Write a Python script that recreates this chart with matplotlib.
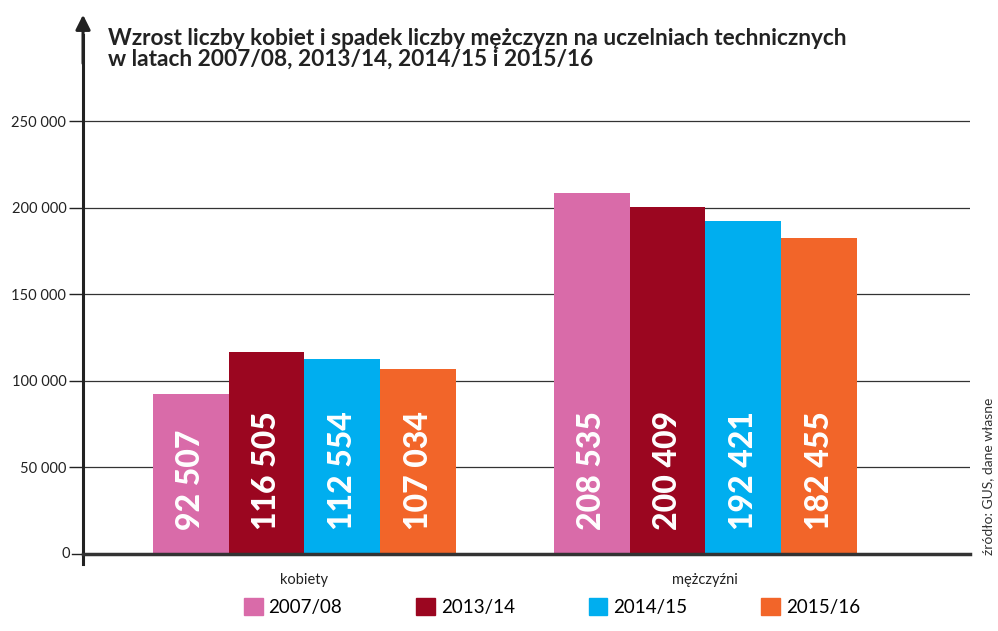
import numpy as np
import matplotlib.pyplot as plt
from matplotlib.patches import Patch

# dane
grupy = ["kobiety", "mężczyźni"]
lata = ["2007/08", "2013/14", "2014/15", "2015/16"]
kobiety = [92507, 116505, 112554, 107034]
mezczyzni = [208535, 200409, 192421, 182455]
kolory = ["#D96BA9", "#9B0620", "#00AEEF", "#F26529"]
yticks = [0, 50000, 100000, 150000, 200000, 250000]

def fmt(v):
    return f"{v:,}".replace(",", " ")

plt.rcParams['font.family'] = ['Lato', 'DejaVu Sans']

fig = plt.figure(figsize=(9.98, 6.31), dpi=100)
ax = fig.add_axes([0.0832, 0.122, 0.8888, 0.859])

x = np.arange(len(grupy))
w = 0.189
wartosci = np.array([kobiety, mezczyzni])
for i, rok in enumerate(lata):
    pos = x + (i - 1.5) * w
    ax.bar(pos, wartosci[:, i], width=w, color=kolory[i], zorder=2, label=rok)
    for xp, v in zip(pos, wartosci[:, i]):
        ax.text(xp, 14000, fmt(v), rotation=90, rotation_mode='anchor',
                ha='left', va='center', color='white', fontsize=23,
                fontweight='black', zorder=3)

ax.set_xlim(-0.552, 1.66)
ax.set_ylim(0, 313000)
ax.set_yticks(yticks[1:])
ax.set_yticklabels([fmt(t) for t in yticks[1:]], fontsize=10.5, color='#222222')
ax.tick_params(axis='y', length=10, width=1, color='#222222', pad=2)
ax.set_xticks(x)
ax.set_xticklabels(grupy, fontsize=10.5, color='#222222')
ax.tick_params(axis='x', length=0, pad=14)
ax.grid(axis='y', color='#333333', linewidth=0.9, zorder=0)
ax.axhline(0, color='#333333', linewidth=2.5, zorder=4, clip_on=False)

for s in ['top', 'right', 'bottom']:
    ax.spines[s].set_visible(False)
ax.spines['left'].set_linewidth(2.2)
ax.spines['left'].set_color('#222222')
ax.spines['left'].set_bounds(-6000, 300000)
ax.annotate('', xy=(0, 1.0), xytext=(0, 0.9), xycoords='axes fraction',
            arrowprops=dict(arrowstyle='-|>', color='#222222', lw=2.2,
                            mutation_scale=22))
# etykieta "0" przy osi
ax.text(-0.015, 0, "0", transform=ax.get_yaxis_transform(), ha='right',
        va='center', fontsize=10.5, color='#222222')
ax.plot([-0.012, 0], [0, 0], transform=ax.get_yaxis_transform(),
        color='#222222', lw=1, clip_on=False)

fig.text(0.108, 0.955, "Wzrost liczby kobiet i spadek liczby mężczyzn na uczelniach technicznych\n"
         "w latach 2007/08, 2013/14, 2014/15 i 2015/16",
         ha='left', va='top', fontsize=16.3, fontweight='bold', color='#222222',
         linespacing=0.98)

fig.text(0.99, 0.12, "źródło: GUS, dane własne", rotation=90, ha='center',
         va='bottom', fontsize=10, color='#333333')

uchwyty = [Patch(color=k) for k in kolory]
fig.legend(uchwyty, lata, loc='center', bbox_to_anchor=(0.553, 0.038), ncol=4,
           frameon=False, fontsize=13.5, handlelength=1.0, handleheight=1.0,
           handletextpad=0.3, columnspacing=3.95)

fig.savefig("out.png", dpi=100)
